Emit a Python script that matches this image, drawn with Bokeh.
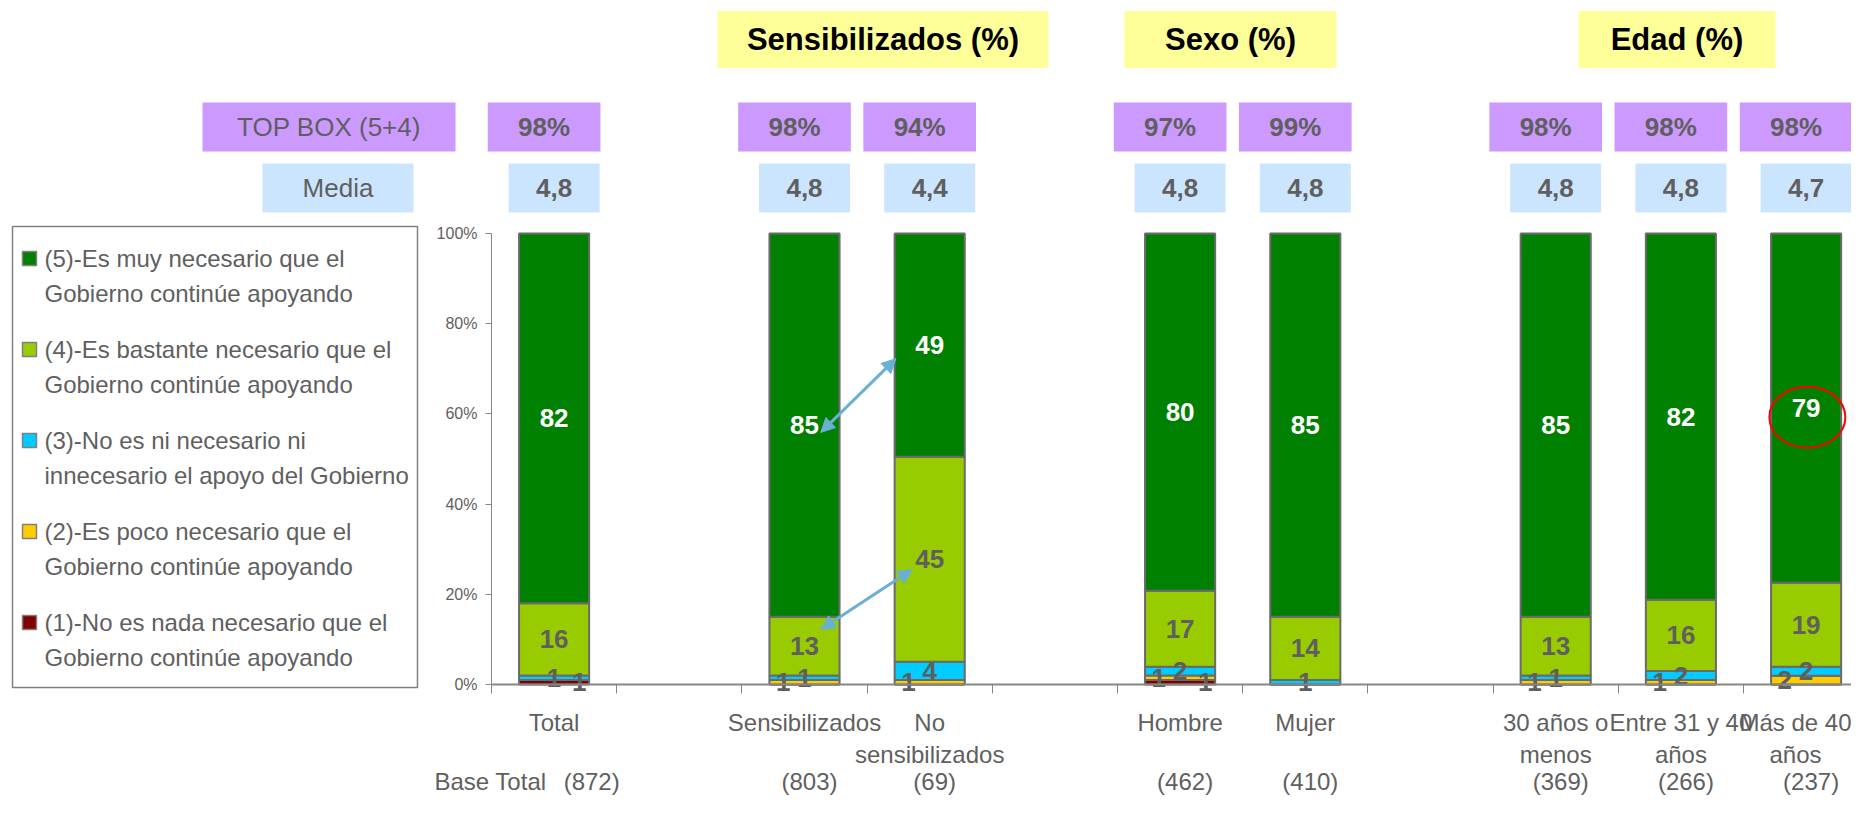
from bokeh.plotting import figure
from bokeh.models import (ColumnDataSource, Range1d, LinearAxis, FixedTicker,
                          PrintfTickFormatter, Arrow, NormalHead)
from bokeh.core.properties import value
from bokeh.embed import file_html
from bokeh.resources import INLINE

# ---------------- data ----------------
categories = ["Total", "Sensibilizados", "No sensibilizados", "Hombre", "Mujer",
              "30 años o menos", "Entre 31 y 40 años", "Más de 40 años"]
axis_labels = ["Total", "Sensibilizados", "No\nsensibilizados", "Hombre", "Mujer",
               "30 años o\nmenos", "Entre 31 y 40\naños", "Más de 40\naños"]
series_names = ["(5)-Es muy necesario que el\nGobierno continúe apoyando",
                "(4)-Es bastante necesario que el\nGobierno continúe apoyando",
                "(3)-No es ni necesario ni\ninnecesario el apoyo del Gobierno",
                "(2)-Es poco necesario que el\nGobierno continúe apoyando",
                "(1)-No es nada necesario que el\nGobierno continúe apoyando"]
s5 = [82, 85, 49, 80, 85, 85, 82, 79]
s4 = [16, 13, 45, 17, 14, 13, 16, 19]
s3 = [1, 1, 4, 2, 1, 1, 2, 2]
s2 = [0, 1, 1, 1, 0, 1, 1, 2]
s1 = [1, 0, 0, 1, 0, 0, 0, 0]
top_box = ["98%", "98%", "94%", "97%", "99%", "98%", "98%", "98%"]
media = ["4,8", "4,8", "4,4", "4,8", "4,8", "4,8", "4,8", "4,7"]
base_title = "Base Total"
base_n = ["(872)", "(803)", "(69)", "(462)", "(410)", "(369)", "(266)", "(237)"]
group_titles = ["Sensibilizados (%)", "Sexo (%)", "Edad (%)"]
y_ticks = [0, 20, 40, 60, 80, 100]

# ---------------- layout / style ----------------
W, H = 1851, 797
ORIGIN = 0
AX_X, ZERO_Y, SLOT, PXPCT = 491.0, 684.0, 125.2, 4.51
def sx(px): return (px - AX_X) / SLOT
def vy(py): return (ZERO_Y - py) / PXPCT

slots = [0, 2, 3, 5, 6, 8, 9, 10]
xc = [s + 0.5 for s in slots]
colors = ["#008000", "#99CC00", "#00CCFF", "#FFCC00", "#800000"]  # (5)..(1)
GRAY = "#5F5F5F"
FONT = "Liberation Sans"

p = figure(width=W, height=H, x_range=Range1d(sx(ORIGIN), sx(ORIGIN + W)),
           y_range=Range1d(vy(ORIGIN + H), vy(ORIGIN)),
           output_backend="svg", toolbar_location=None,
           x_axis_location=None, y_axis_location=None, min_border=0,
           outline_line_color=None)
p.grid.visible = False
p.background_fill_color = "white"
p.border_fill_color = "white"

# ---------------- bars (100% stacked) ----------------
series = [s5, s4, s3, s2, s1]
totals = [sum(v[i] for v in series) for i in range(len(categories))]
pct = [[v[i] * 100.0 / totals[i] for i in range(len(categories))] for v in series]
keys = ["p1", "p2", "p3", "p4", "p5"]  # bottom -> top
src = ColumnDataSource(dict(x=xc, p1=pct[4], p2=pct[3], p3=pct[2], p4=pct[1], p5=pct[0]))
p.vbar_stack(keys, x="x", width=0.56, source=src,
             fill_color=[colors[4], colors[3], colors[2], colors[1], colors[0]],
             line_color="#6A6A6A", line_width=2)

# value labels
label_dx = [0.0, 0.0, 0.0, -0.17, 0.2]  # (5)..(1)
label_col = ["white", GRAY, GRAY, GRAY, GRAY]
lx, ly, lt, lc = [], [], [], []
for i in range(len(categories)):
    bottom = 0.0
    for k in [4, 3, 2, 1, 0]:
        h = pct[k][i]
        if series[k][i] > 0:
            lx.append(xc[i] + label_dx[k])
            ly.append(bottom + h / 2.0)
            lt.append(str(series[k][i]))
            lc.append(label_col[k])
        bottom += h
p.text(x=lx, y=ly, text=lt, text_color=lc, text_align="center", text_baseline="middle",
       text_font=value(FONT), text_font_style="bold", text_font_size="26px")

# ---------------- axes ----------------
yaxis = LinearAxis(fixed_location=0, bounds=(0, 100), ticker=FixedTicker(ticks=y_ticks),
                   formatter=PrintfTickFormatter(format="%d%%"))
yaxis.axis_line_color = "#868686"
yaxis.major_tick_line_color = "#868686"
yaxis.major_tick_out = 6
yaxis.major_tick_in = 0
yaxis.minor_tick_line_color = None
yaxis.major_label_text_font = FONT
yaxis.major_label_text_font_size = "16px"
yaxis.major_label_text_color = GRAY
yaxis.major_label_standoff = 8
p.add_layout(yaxis, "left")

xaxis = LinearAxis(fixed_location=0, bounds=(0, 11),
                   ticker=FixedTicker(ticks=xc, minor_ticks=list(range(12))),
                   major_label_overrides={x: l for x, l in zip(xc, axis_labels)})
xaxis.axis_line_color = "#868686"
xaxis.axis_line_width = 2
xaxis.major_tick_out = 0
xaxis.major_tick_in = 0
xaxis.major_tick_line_color = None
xaxis.minor_tick_out = 9
xaxis.minor_tick_in = 0
xaxis.minor_tick_line_color = "#868686"
xaxis.major_label_text_font = FONT
xaxis.major_label_text_font_size = "24px"
xaxis.major_label_text_color = GRAY
xaxis.major_label_standoff = 15
p.add_layout(xaxis, "below")

# base row
BASE_Y = vy(781)
bx = [xc[0] + 0.3] + [x + 0.04 for x in xc[1:]]
p.text(x=bx, y=[BASE_Y] * len(bx), text=base_n, text_align="center", text_baseline="middle",
       text_font=value(FONT), text_font_size="24px", text_color=GRAY)
p.text(x=[sx(546)], y=[BASE_Y], text=[base_title], text_align="right", text_baseline="middle",
       text_font=value(FONT), text_font_size="24px", text_color=GRAY)

# ---------------- top rows ----------------
ROW_H = 49 / PXPCT
p.rect(x=[sx((202 + 455) / 2)], y=[vy(126.5)], width=(455 - 202) / SLOT, height=ROW_H,
       fill_color="#CC99FF", line_color=None)
p.text(x=[sx((202 + 455) / 2)], y=[vy(126.5)], text=["TOP BOX (5+4)"], text_align="center",
       text_baseline="middle", text_font=value(FONT), text_font_size="26px", text_color=GRAY)
tbx = [x - 0.08 for x in xc]
p.rect(x=tbx, y=[vy(126.5)] * len(tbx), width=0.9, height=ROW_H, fill_color="#CC99FF", line_color=None)
p.text(x=tbx, y=[vy(126.5)] * len(tbx), text=top_box, text_align="center", text_baseline="middle",
       text_font=value(FONT), text_font_style="bold", text_font_size="26px", text_color=GRAY)

p.rect(x=[sx((262 + 413) / 2)], y=[vy(187.5)], width=(413 - 262) / SLOT, height=ROW_H,
       fill_color="#CCE5FF", line_color=None)
p.text(x=[sx((262 + 413) / 2)], y=[vy(187.5)], text=["Media"], text_align="center",
       text_baseline="middle", text_font=value(FONT), text_font_size="26px", text_color=GRAY)
p.rect(x=xc, y=[vy(187.5)] * len(xc), width=91 / SLOT, height=ROW_H, fill_color="#CCE5FF", line_color=None)
p.text(x=xc, y=[vy(187.5)] * len(xc), text=media, text_align="center", text_baseline="middle",
       text_font=value(FONT), text_font_style="bold", text_font_size="26px", text_color=GRAY)

# group titles
title_px = [(717, 1048), (1124, 1336), (1578, 1775)]
tx = [sx((a + b) / 2) for a, b in title_px]
tw = [(b - a) / SLOT for a, b in title_px]
p.rect(x=tx, y=[vy(39)] * 3, width=tw, height=57 / PXPCT, fill_color="#FFFF99", line_color=None)
p.text(x=tx, y=[vy(39)] * 3, text=group_titles, text_align="center", text_baseline="middle",
       text_font=value(FONT), text_font_style="bold", text_font_size="31px", text_color="black")

# ---------------- legend ----------------
p.rect(x=[sx((12 + 417) / 2)], y=[vy((226 + 687) / 2)], width=(417 - 12) / SLOT,
       height=(687 - 226) / PXPCT, fill_color="white", line_color="#808080", line_width=1.5)
leg_y = [vy(258 + 91 * i) for i in range(5)]
p.rect(x=[sx(29)] * 5, y=leg_y, width=14, height=14, width_units="screen", height_units="screen",
       fill_color=colors, line_color="#808080", line_width=1.5)
p.text(x=[sx(44)] * 5, y=[vy(244 + 91 * i) for i in range(5)], text=series_names,
       text_align="left", text_baseline="top", text_line_height=1.3,
       text_font=value(FONT), text_font_size="24px", text_color=GRAY)

# ---------------- annotations ----------------
def seg_center(k, i):
    bottom = sum(pct[j][i] for j in range(k + 1, 5))
    return bottom + pct[k][i] / 2.0

AC = "#6AAFD4"
i_s, i_n = 1, 2
for (ys, ye, dys, dye, dxe) in [(seg_center(0, i_s), seg_center(0, i_n), -1.6, -3.0, -0.27),
                                (seg_center(1, i_s), seg_center(1, i_n), 3.7, -2.3, -0.14)]:
    p.add_layout(Arrow(start=NormalHead(size=14, fill_color=AC, line_color=AC),
                       end=NormalHead(size=14, fill_color=AC, line_color=AC),
                       x_start=xc[i_s] + 0.13, y_start=ys + dys,
                       x_end=xc[i_n] + dxe, y_end=ye + dye,
                       line_color=AC, line_width=3))

i_m = 7
p.ellipse(x=[xc[i_m] + 0.01], y=[seg_center(0, i_m) - 2.0], width=76 / SLOT, height=61 / PXPCT,
          fill_color=None, line_color="#FF0000", line_width=2)

open("out.html", "w").write(file_html(p, INLINE))
